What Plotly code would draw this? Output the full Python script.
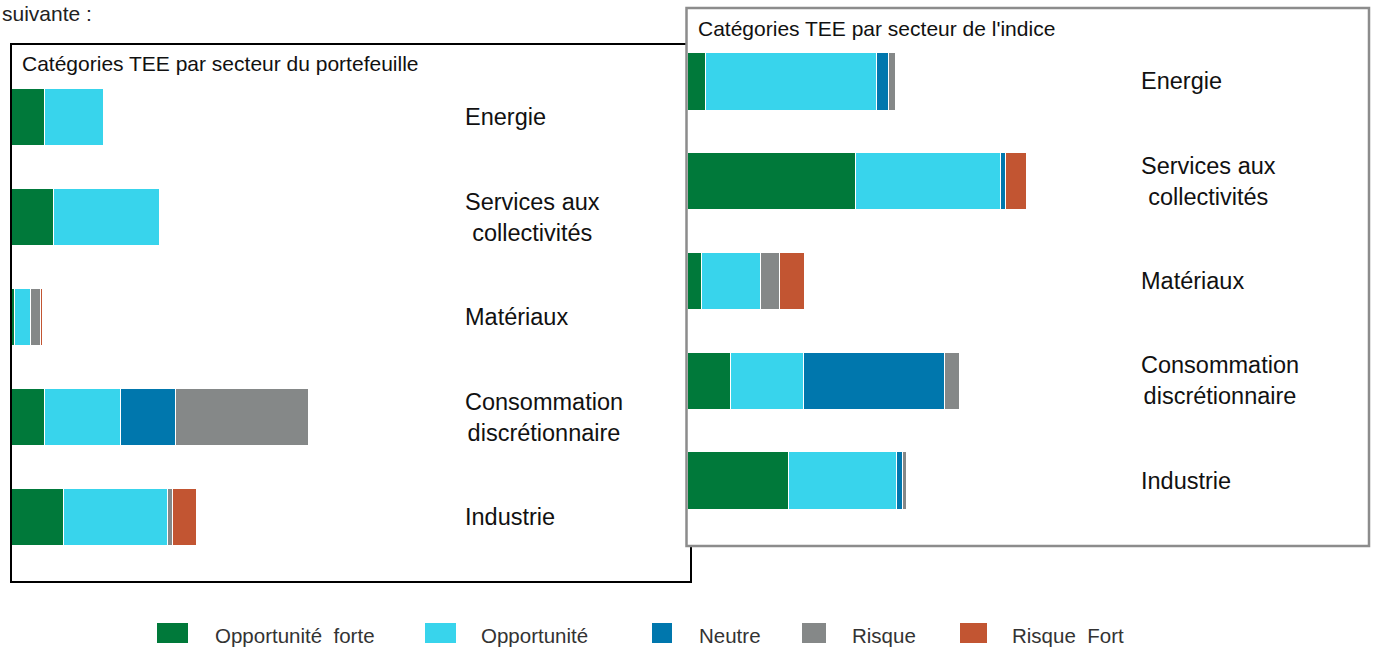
import plotly.graph_objects as go

W, H = 1375, 649

sectors = ["Energie", "Services aux<br>collectivités", "Matériaux",
           "Consommation<br>discrétionnaire", "Industrie"]
categories = ["Opportunité  forte", "Opportunité", "Neutre", "Risque", "Risque  Fort"]
colors = ["#00793A", "#38D4EC", "#0077AD", "#858888", "#C25532"]

# portefeuille (estimated, arbitrary units)
pf_opp_forte = [33, 42, 3, 33, 52]
pf_opp = [59, 106, 16, 76, 104]
pf_neutre = [0, 0, 0, 55, 0]
pf_risque = [0, 0, 10, 133, 5]
pf_risque_fort = [0, 0, 2, 0, 24]

# indice (estimated, same units)
ix_opp_forte = [18, 168, 14, 43, 101]
ix_opp = [171, 145, 59, 73, 108]
ix_neutre = [12, 5, 0, 141, 6]
ix_risque = [7, 0, 19, 15, 4]
ix_risque_fort = [0, 21, 25, 0, 0]

pf_series = [pf_opp_forte, pf_opp, pf_neutre, pf_risque, pf_risque_fort]
ix_series = [ix_opp_forte, ix_opp, ix_neutre, ix_risque, ix_risque_fort]


def px(x):
    return x / W


def py(y):
    return 1 - y / H


fig = go.Figure()
for name, color, vals in zip(categories, colors, pf_series):
    fig.add_trace(go.Bar(y=sectors, x=vals, orientation="h", name=name,
                         marker=dict(color=color, line=dict(color="white", width=1)),
                         width=0.57, xaxis="x", yaxis="y", showlegend=False))
for name, color, vals in zip(categories, colors, ix_series):
    fig.add_trace(go.Bar(y=sectors, x=vals, orientation="h", name=name,
                         marker=dict(color=color, line=dict(color="white", width=1)),
                         width=0.575, xaxis="x2", yaxis="y2", showlegend=False))

axis_off = dict(showgrid=False, zeroline=False, showticklabels=False, showline=False)
font_main = "Liberation Sans, Arial, sans-serif"

shapes = [
    # left panel frame
    dict(type="rect", xref="paper", yref="paper", x0=px(11), x1=px(691), y0=py(582), y1=py(44),
         line=dict(color="black", width=2), fillcolor="rgba(0,0,0,0)", layer="below"),
    # right panel frame, on top of the left one
    dict(type="rect", xref="paper", yref="paper", x0=px(686.5), x1=px(1369), y0=py(546), y1=py(8),
         line=dict(color="#8C8C8C", width=2.5), fillcolor="white", layer="below"),
]

annotations = [
    dict(text="suivante :", x=px(0), y=py(13), xref="paper", yref="paper", xanchor="left",
         yanchor="middle", showarrow=False, font=dict(size=21, color="#222", family=font_main)),
    dict(text="Catégories TEE par secteur du portefeuille", x=px(20), y=py(64), xref="paper",
         yref="paper", xanchor="left", yanchor="middle", showarrow=False,
         font=dict(size=21, color="#111", family=font_main)),
    dict(text="Catégories TEE par secteur de l'indice", x=px(696), y=py(28), xref="paper",
         yref="paper", xanchor="left", yanchor="middle", showarrow=False,
         font=dict(size=21, color="#111", family=font_main)),
]
for s in sectors:
    annotations.append(dict(text=s, x=px(463), y=s, xref="paper", yref="y", xanchor="left",
                            yanchor="middle", align="center", showarrow=False,
                            font=dict(size=23.5, color="#111", family=font_main)))
    annotations.append(dict(text=s, x=px(1139), y=s, xref="paper", yref="y2", xanchor="left",
                            yanchor="middle", align="center", showarrow=False,
                            font=dict(size=23.5, color="#111", family=font_main)))

# legend drawn by hand to match the spacing of the original
leg_box = [(157, 188), (425, 456), (652, 672), (802, 826), (960, 987)]
leg_text = [213, 479, 697, 850, 1010]
for (x0, x1), tx, name, color in zip(leg_box, leg_text, categories, colors):
    shapes.append(dict(type="rect", xref="paper", yref="paper", x0=px(x0), x1=px(x1),
                       y0=py(643), y1=py(623), fillcolor=color, line=dict(width=0)))
    annotations.append(dict(text=name, x=px(tx), y=py(635), xref="paper", yref="paper",
                            xanchor="left", yanchor="middle", showarrow=False,
                            font=dict(size=20.5, color="#333", family=font_main)))

fig.update_layout(
    width=W, height=H,
    margin=dict(l=0, r=0, t=0, b=0),
    paper_bgcolor="white",
    plot_bgcolor="rgba(0,0,0,0)",
    barmode="stack",
    bargap=0,
    xaxis=dict(domain=[px(12), px(456)], range=[0, 444], **axis_off),
    yaxis=dict(domain=[py(567), py(67)], autorange="reversed", anchor="x", **axis_off),
    xaxis2=dict(domain=[px(688), px(1132)], range=[0, 444], anchor="y2", **axis_off),
    yaxis2=dict(domain=[py(530.5), py(31.5)], autorange="reversed", anchor="x2", **axis_off),
    shapes=shapes,
    annotations=annotations,
)

fig.write_html("out.html", config={"displayModeBar": False},
               post_script="document.body.style.margin = '0';")
